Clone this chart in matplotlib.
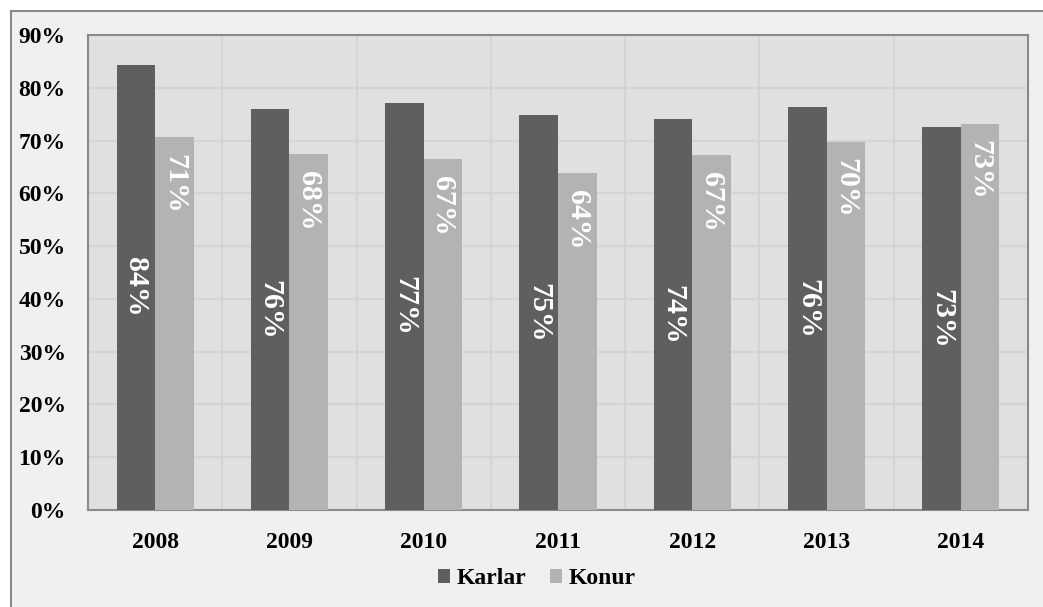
import matplotlib
matplotlib.use("Agg")
import matplotlib.pyplot as plt
from matplotlib.patches import Rectangle
import numpy as np

years = ["2008", "2009", "2010", "2011", "2012", "2013", "2014"]
karlar = [84.4, 75.9, 77.2, 74.8, 74.1, 76.3, 72.6]
konur = [70.6, 67.4, 66.5, 63.8, 67.2, 69.8, 73.2]
karlar_labels = ["84%", "76%", "77%", "75%", "74%", "76%", "73%"]
konur_labels = ["71%", "68%", "67%", "64%", "67%", "70%", "73%"]
yticks = [0, 10, 20, 30, 40, 50, 60, 70, 80, 90]

plt.rcParams['font.family'] = ['Liberation Serif', 'DejaVu Serif']

W, H = 1043, 607
fig = plt.figure(figsize=(W / 100, H / 100), dpi=100, facecolor='white')

# chart area background with top/left border (right/bottom cropped)
bg = Rectangle((11 / W, -0.1), 1.2, (H - 11) / H + 0.1, transform=fig.transFigure,
               facecolor='#f0f0f0', edgecolor='#8a8a8a', linewidth=1.5, zorder=-10)
fig.patches.append(bg)

ax = fig.add_axes([88 / W, (H - 510) / H, (1028 - 88) / W, (510 - 35) / H])
ax.set_facecolor('#e0e0e0')

x = np.arange(len(years))
w = 0.287
b1 = ax.bar(x - w / 2, karlar, width=w, color='#5f5f5f', label='Karlar', zorder=3)
b2 = ax.bar(x + w / 2, konur, width=w, color='#b3b3b3', label='Konur', zorder=3)

for rect, lab in zip(b1, karlar_labels):
    ax.text(rect.get_x() + rect.get_width() / 2, rect.get_height() / 2, lab,
            rotation=270, ha='center', va='center', color='white', fontsize=21.5,
            fontweight='semibold', zorder=4)
for rect, lab in zip(b2, konur_labels):
    ax.annotate(lab, (rect.get_x() + rect.get_width() / 2, rect.get_height()),
                xytext=(0, -12), textcoords='offset points',
                rotation=270, ha='center', va='top', color='white', fontsize=21.5,
                fontweight='semibold', zorder=4)

ax.set_xlim(-0.5, len(years) - 0.5)
ax.set_ylim(0, 90)
ax.set_yticks(yticks)
ax.set_yticklabels([f"{v}%" for v in yticks], fontsize=17, fontweight='bold')
ax.set_xticks(x)
ax.set_xticklabels(years, fontsize=17, fontweight='bold')
ax.set_xticks(np.arange(len(years) - 1) + 0.5, minor=True)
ax.tick_params(axis='both', which='both', length=0)
ax.tick_params(axis='y', pad=16)
ax.tick_params(axis='x', pad=16)
ax.grid(axis='y', which='major', color='#d4d4d4', linewidth=1.5, zorder=1)
ax.grid(axis='x', which='minor', color='#d4d4d4', linewidth=1.5, zorder=1)
ax.set_axisbelow(True)
for s in ax.spines.values():
    s.set_color('#8a8a8a')
    s.set_linewidth(1.5)

leg = fig.legend(handles=[b1, b2], labels=['Karlar', 'Konur'], loc='center',
                 bbox_to_anchor=(537 / W, (H - 579) / H), ncol=2, frameon=False,
                 prop={'size': 17, 'weight': 'bold'}, handlelength=0.5, handleheight=0.5,
                 handletextpad=0.3, columnspacing=1.0)

fig.savefig('out.png', dpi=100, facecolor=fig.get_facecolor())
